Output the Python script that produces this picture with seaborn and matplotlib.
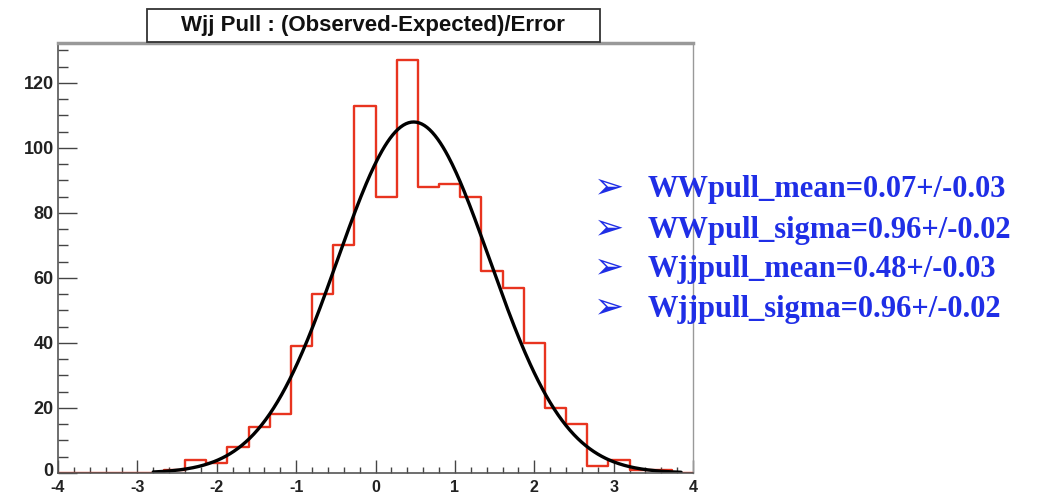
import numpy as np
import pandas as pd
import matplotlib
matplotlib.use("Agg")
import matplotlib.pyplot as plt
import matplotlib.patches as mpatches
import matplotlib.transforms as mtransforms
import seaborn as sns

# ---- data ----
x_min, x_max, n_bins = -4.0, 4.0, 30
bin_counts = [0, 0, 0, 0, 0, 1, 4, 3, 8, 14,
              18, 39, 55, 70, 113, 85, 127, 88, 89, 85,
              62, 57, 40, 20, 15, 2, 4, 1, 1, 0]
fit_amplitude = 108.0
fit_mean = 0.48
fit_sigma = 0.96
fit_range = (-2.8, 3.85)
x_ticks = [-4, -3, -2, -1, 0, 1, 2, 3, 4]
y_ticks = [0, 20, 40, 60, 80, 100, 120]
title_text = "Wjj Pull : (Observed-Expected)/Error"
info_lines = ["WWpull_mean=0.07+/-0.03",
              "WWpull_sigma=0.96+/-0.02",
              "Wjjpull_mean=0.48+/-0.03",
              "Wjjpull_sigma=0.96+/-0.02"]

sns.set_theme(style="white")
plt.rcParams['font.family'] = ['Liberation Sans', 'DejaVu Sans']

W, H = 1063, 495
fig = plt.figure(figsize=(W / 100, H / 100), dpi=100)
ax = fig.add_axes([58 / W, 1 - 473 / H, (693 - 58) / W, (473 - 43) / H])

edges = np.linspace(x_min, x_max, n_bins + 1)
centers = 0.5 * (edges[:-1] + edges[1:])
df = pd.DataFrame({"pull": centers, "n": np.array(bin_counts, dtype=float)})
sns.histplot(data=df, x="pull", weights="n", bins=n_bins,
             binrange=(x_min, x_max), element="step",
             fill=False, color="#e8341f", linewidth=1.7, ax=ax)

xf = np.linspace(fit_range[0], fit_range[1], 400)
yf = fit_amplitude * np.exp(-0.5 * ((xf - fit_mean) / fit_sigma) ** 2)
sns.lineplot(x=xf, y=yf, color="black", linewidth=2.4, ax=ax)

ax.set_xlim(x_min, x_max)
ax.set_ylim(0, 132.3)
ax.set_xlabel("")
ax.set_ylabel("")
ax.set_xticks(x_ticks)
ax.set_yticks(y_ticks)
ax.set_xticklabels([str(t) for t in x_ticks])
ax.set_yticklabels([str(t) for t in y_ticks])
ax.xaxis.set_minor_locator(matplotlib.ticker.MultipleLocator(0.2))
ax.yaxis.set_minor_locator(matplotlib.ticker.MultipleLocator(5))
ax.tick_params(axis="x", which="major", direction="in", length=9.5, width=1,
               color="#444444", labelsize=11.5, pad=5, bottom=True)
ax.tick_params(axis="x", which="minor", direction="in", length=4.5, width=1,
               color="#444444", bottom=True)
ax.tick_params(axis="y", which="major", direction="in", length=14, width=1,
               color="#444444", labelsize=13, pad=3, left=True)
ax.tick_params(axis="y", which="minor", direction="in", length=7, width=1,
               color="#444444", left=True)
for lab in ax.get_xticklabels() + ax.get_yticklabels():
    lab.set_fontweight("bold")
    lab.set_color("#222222")
# nudge the y "0" label up slightly so it clears the x "-4" label
ylab0 = ax.get_yticklabels()[0]
ylab0.set_transform(ylab0.get_transform() +
                    mtransforms.ScaledTranslation(0, 3 / 100, fig.dpi_scale_trans))

for side in ["left", "bottom"]:
    ax.spines[side].set_color("#555555")
    ax.spines[side].set_linewidth(1.2)
ax.spines["top"].set_color("#999999")
ax.spines["top"].set_linewidth(2.5)
ax.spines["right"].set_color("#999999")
ax.spines["right"].set_linewidth(1.0)

# title box
fig.patches.append(mpatches.Rectangle((147 / W, 1 - 42 / H), (600 - 147) / W,
                                      (42 - 9) / H, transform=fig.transFigure,
                                      facecolor="white", edgecolor="#333333",
                                      linewidth=1.3, zorder=5))
fig.text(373 / W, 1 - 26 / H, title_text, ha="center", va="center",
         fontsize=16, fontweight="bold", color="#111111", zorder=6)

# info text
blue = "#1f2ee6"
baselines = [197, 238, 277, 317]
for yb, line in zip(baselines, info_lines):
    fy = 1 - yb / H
    fig.text(594 / W, fy, "\u27a2", ha="left", va="baseline",
             fontsize=26, color=blue, family=["DejaVu Sans"])
    fig.text(648 / W, fy, line, ha="left", va="baseline",
             fontsize=22, fontweight="bold", color=blue,
             family=["Liberation Serif", "DejaVu Serif"])

fig.savefig("out.png", dpi=100)
